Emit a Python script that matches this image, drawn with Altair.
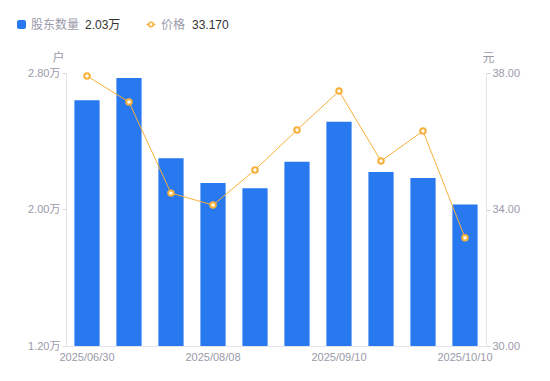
import altair as alt
import pandas as pd

dates = ["2025/06/30", "2025/07/10", "2025/07/20", "2025/08/08", "2025/08/20",
         "2025/08/29", "2025/09/10", "2025/09/19", "2025/09/30", "2025/10/10"]
holders = [2.64, 2.77, 2.30, 2.155, 2.125, 2.28, 2.515, 2.22, 2.185, 2.03]
prices = [37.91, 37.15, 34.48, 34.13, 35.16, 36.33, 37.47, 35.42, 36.30, 33.17]
shown_dates = ["2025/06/30", "2025/08/08", "2025/09/10", "2025/10/10"]

BLUE = "#2878F0"
ORANGE = "#F8B03A"
GREY = "#9A9AAA"
DARK = "#333333"
FONT = "Liberation Sans, 'Noto Sans CJK SC', sans-serif"

df = pd.DataFrame({"date": dates, "holders": holders, "price": prices})

x = alt.X("date:N", sort=dates,
          scale=alt.Scale(paddingInner=0.4, paddingOuter=0.2),
          axis=alt.Axis(title=None, values=shown_dates, labelAngle=0, ticks=False,
                        domainColor="#E3E5EA", labelColor=GREY, labelFontSize=11,
                        labelPadding=5, grid=False))

base = alt.Chart(df)

bars = base.mark_bar(color=BLUE).encode(
    x=x,
    y=alt.Y("holders:Q",
            scale=alt.Scale(domain=[1.2, 2.8], zero=False, nice=False),
            axis=alt.Axis(title="户", values=[1.2, 2.0, 2.8],
                          labelExpr="format(datum.value, '.2f') + '万'",
                          orient="left", grid=False, domainColor="#E3E5EA",
                          tickColor="#D6D8DE", tickSize=4, labelColor=GREY,
                          labelFontSize=11, labelPadding=2,
                          titleAngle=0, titleX=-8, titleY=-16, titleAlign="center",
                          titleBaseline="middle", titleColor=GREY,
                          titleFontSize=12, titleFontWeight="normal")),
    y2=alt.datum(1.2),
)

py = alt.Y("price:Q",
           scale=alt.Scale(domain=[30, 38], zero=False, nice=False),
           axis=alt.Axis(title="元", values=[30, 34, 38], format=".2f",
                         orient="right", grid=False, domainColor="#E3E5EA",
                         tickColor="#D6D8DE", tickSize=4, labelColor=GREY,
                         labelFontSize=11, labelPadding=2,
                         titleAngle=0, titleX=2, titleY=-16, titleAlign="center",
                         titleBaseline="middle", titleColor=GREY,
                         titleFontSize=12, titleFontWeight="normal"))

line = base.mark_line(color=ORANGE, strokeWidth=1).encode(x=x, y=py)
pts = base.mark_point(shape="circle", filled=True, fill="white", stroke=ORANGE,
                      strokeWidth=2, size=30, opacity=1).encode(x=x, y=py)

# custom legend
leg = alt.Chart(pd.DataFrame({"k": [0]}))
sq = leg.mark_rect(color=BLUE, cornerRadius=2).encode(
    x=alt.value(-49), x2=alt.value(-40), y=alt.value(-53), y2=alt.value(-44))
t1 = leg.mark_text(text="股东数量", align="left", baseline="middle", fontSize=12,
                   color=GREY).encode(x=alt.value(-35), y=alt.value(-48.5))
t2 = leg.mark_text(text=f"{holders[-1]:.2f}万", align="left", baseline="middle",
                   fontSize=12, color=DARK).encode(x=alt.value(19), y=alt.value(-48.5))
lr = leg.mark_rule(color=ORANGE, strokeWidth=1.5).encode(
    x=alt.value(80.5), x2=alt.value(89.5), y=alt.value(-48.5))
lp = leg.mark_point(shape="circle", filled=True, fill="white", stroke=ORANGE,
                    strokeWidth=1.5, size=20, opacity=1).encode(
    x=alt.value(85), y=alt.value(-48.5))
t3 = leg.mark_text(text="价格", align="left", baseline="middle", fontSize=12,
                   color=GREY).encode(x=alt.value(95), y=alt.value(-48.5))
t4 = leg.mark_text(text=f"{prices[-1]:.3f}", align="left", baseline="middle",
                   fontSize=12, color=DARK).encode(x=alt.value(126), y=alt.value(-48.5))

left = bars
right = alt.layer(line, pts)
chart = alt.layer(left, right, sq, t1, t2, lr, lp, t3, t4).resolve_scale(
    y="independent"
).properties(
    width=420, height=273, autosize="none",
    padding={"left": 58, "top": 65, "right": 56, "bottom": 27},
).configure(font=FONT).configure_view(stroke=None)

chart.save("out.html", embed_options={"renderer": "svg", "actions": False})
